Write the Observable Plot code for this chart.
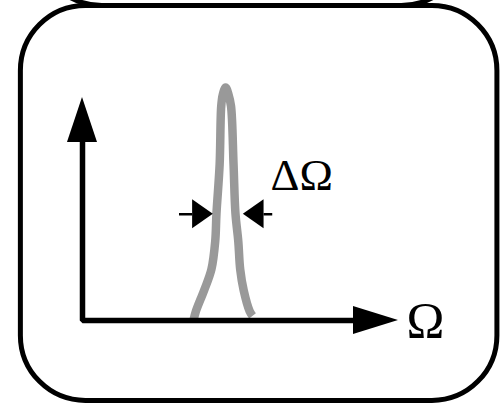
<!DOCTYPE html>
<html>
<head>
<meta charset="utf-8">
<script src="https://cdn.jsdelivr.net/npm/d3@7"></script>
<script src="https://cdn.jsdelivr.net/npm/@observablehq/plot@0.6"></script>
<style>
  html, body { margin: 0; padding: 0; background: #fff; }
  #chart svg { display: block; overflow: hidden; }
</style>
</head>
<body>
<div id="chart"></div>
<script>
// Line profile: frequency Ω (arbitrary units) against normalised amplitude
const omega = [3.51, 3.59, 3.85, 4.08, 4.20, 4.24, 4.34, 4.39, 4.44, 4.53, 4.62, 4.70, 4.78, 4.84, 4.93, 4.99, 5.10, 5.29, 5.38];
const amplitude = [0, 0.04, 0.13, 0.22, 0.34, 0.46, 0.67, 0.92, 0.97, 1, 0.97, 0.92, 0.67, 0.46, 0.34, 0.22, 0.13, 0.04, 0.02];

// Linewidth markers: the Ω values the two arrows point at, where their tails start, and their level
const widthEdges = [4.14, 5.09];
const widthTails = [3.07, 6.02];
const widthLevel = 0.456;

// Axis extents (arrow tips)
const omegaAxisEnd = 10;
const amplitudeAxisEnd = 0.957;

// Labels
const axisLabel = "Ω";
const widthLabel = "ΔΩ";
const axisLabelAt = [10.25, 0];
const widthLabelAt = [5.95, 0.62];

// Panel outlines: this panel and the lower edge of the one stacked above it
const panelX1 = [-1.95, -1.43];
const panelX2 = [13.13, 12.16];
const panelY1 = [-0.345, 1.35];
const panelY2 = [1.35, 3.0];

const profile = omega.map((x, i) => ({x, y: amplitude[i]}));
const panels = panelX1.map((x1, i) => ({x1, x2: panelX2[i], y1: panelY1[i], y2: panelY2[i]}));

// arrowhead sizes, in data units
const axisHeadHalfWidth = 0.475, axisHeadLenY = 0.193;
const axisHeadHalfHeight = 0.06, axisHeadLenX = 1.424;
const markHeadHalfHeight = 0.062, markHeadLen = 0.655;

const yBase = amplitudeAxisEnd - axisHeadLenY;
const yHead = [
  {x: -axisHeadHalfWidth, y1: yBase, y2: yBase},
  {x: 0, y1: yBase, y2: amplitudeAxisEnd},
  {x: axisHeadHalfWidth, y1: yBase, y2: yBase}
];
const xBase = omegaAxisEnd - axisHeadLenX;
const xHead = [
  {y: -axisHeadHalfHeight, x1: xBase, x2: xBase},
  {y: 0, x1: xBase, x2: omegaAxisEnd},
  {y: axisHeadHalfHeight, x1: xBase, x2: xBase}
];
const axesPath = [
  {x: 0, y: yBase + 0.01},
  {x: 0, y: 0},
  {x: xBase + 0.03, y: 0}
];

// the two linewidth arrows: left one points right, right one points left
const markHeads = [];
const markTails = [];
widthEdges.forEach((tip, i) => {
  const dir = i === 0 ? -1 : 1;
  const base = tip + dir * markHeadLen;
  markHeads.push(
    {id: i, y: widthLevel - markHeadHalfHeight, x1: base, x2: base},
    {id: i, y: widthLevel, x1: base, x2: tip},
    {id: i, y: widthLevel + markHeadHalfHeight, x1: base, x2: base}
  );
  markTails.push({x1: widthTails[i], x2: base, y: widthLevel});
});

const chart = Plot.plot({
  width: 504,
  height: 404,
  margin: 0,
  x: {domain: [0, 10], range: [82, 398], axis: null},
  y: {domain: [0, 1], range: [320, 87], axis: null},
  marks: [
    Plot.rect(panels, {x1: "x1", x2: "x2", y1: "y1", y2: "y2", rx: 65, fill: "none", stroke: "black", strokeWidth: 5}),
    Plot.line(profile, {x: "x", y: "y", curve: "catmull-rom", stroke: "#999", strokeWidth: 8.5, strokeLinecap: "butt", strokeLinejoin: "round"}),
    Plot.line(axesPath, {x: "x", y: "y", stroke: "black", strokeWidth: 5.5, strokeLinejoin: "miter", strokeLinecap: "butt"}),
    Plot.areaY(yHead, {x: "x", y1: "y1", y2: "y2", fill: "black", curve: "linear"}),
    Plot.areaX(xHead, {y: "y", x1: "x1", x2: "x2", fill: "black", curve: "linear"}),
    Plot.ruleY(markTails, {x1: "x1", x2: "x2", y: "y", stroke: "black", strokeWidth: 2.5}),
    Plot.areaX(markHeads, {y: "y", x1: "x1", x2: "x2", z: "id", fill: "black", curve: "linear"}),
    Plot.text([axisLabel], {x: axisLabelAt[0], y: axisLabelAt[1], text: d => d, textAnchor: "start", fontFamily: "Liberation Serif", fontSize: 51, fill: "black"}),
    Plot.text([widthLabel], {x: widthLabelAt[0], y: widthLabelAt[1], text: d => d, textAnchor: "start", fontFamily: "Liberation Serif", fontSize: 45, fill: "black"})
  ]
});
document.getElementById("chart").appendChild(chart);
</script>
</body>
</html>
